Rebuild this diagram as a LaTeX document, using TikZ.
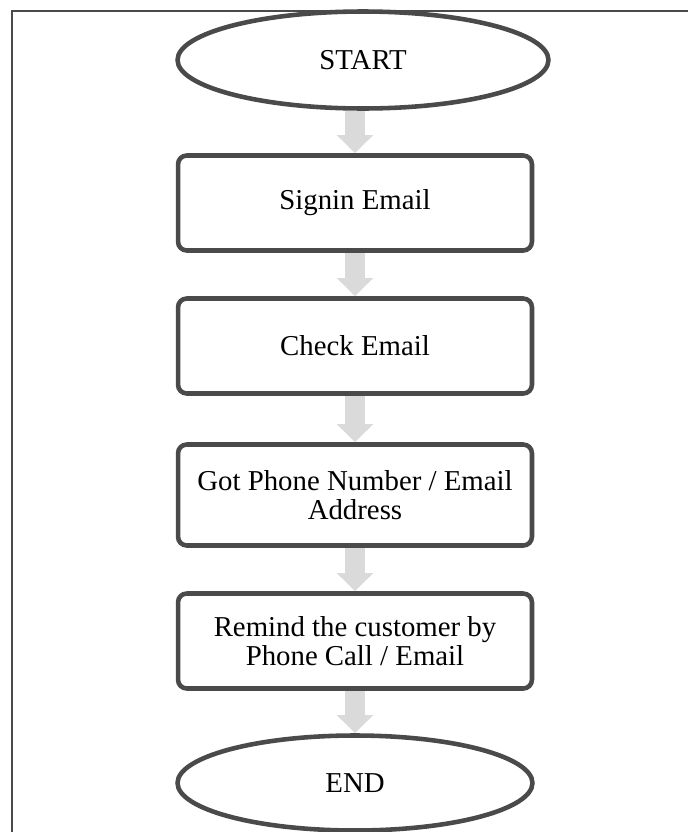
\documentclass[tikz,border=0pt]{standalone}
\usepackage{fontspec}
\setmainfont{Liberation Serif}
\usetikzlibrary{shapes.geometric,arrows.meta}
\definecolor{edgegray}{HTML}{4A4A4A}
\definecolor{arrowgray}{HTML}{DADADA}
\begin{document}
\begin{tikzpicture}[x=0.02cm,y=-0.02cm,
  stepbox/.style={draw=edgegray, line width=2.6pt, rounded corners=5pt, fill=white,
    minimum width=7.08cm, minimum height=1.9cm, align=center, inner sep=4pt,
    font=\fontsize{16.4}{16.8}\selectfont},
  terminal/.style={draw=edgegray, line width=2.6pt, ellipse, fill=white, inner sep=0pt,
    font=\fontsize{16.4}{16.8}\selectfont},
  flow/.style={arrowgray, line width=0.4cm,
    -{Triangle[width=0.7cm, length=0.36cm]}}]
\useasboundingbox (0,0) rectangle (688,832);
% frame, only its top and left sides fall inside the page
\draw[edgegray, line width=1.4pt] (720,11) -- (12,11) -- (12,870);
\node[terminal, minimum width=7.42cm, minimum height=1.94cm] (start) at (363,60) {START};
\node[stepbox] (signin) at (355,203) {Signin Email};
\node[stepbox] (check) at (355,346) {Check Email};
\node[stepbox, minimum height=2.02cm] (got) at (355,495) {Got Phone Number / Email\\Address};
\node[stepbox] (remind) at (355,641) {Remind the customer by\\Phone Call / Email};
\node[terminal, minimum width=7.1cm, minimum height=1.9cm] (end) at (355,783) {END};
\draw[flow] (start.south -| signin.north) -- (signin.north);
\draw[flow] (signin) -- (check);
\draw[flow] (check) -- (got);
\draw[flow] (got) -- (remind);
\draw[flow] (remind) -- (end);
\end{tikzpicture}
\end{document}
